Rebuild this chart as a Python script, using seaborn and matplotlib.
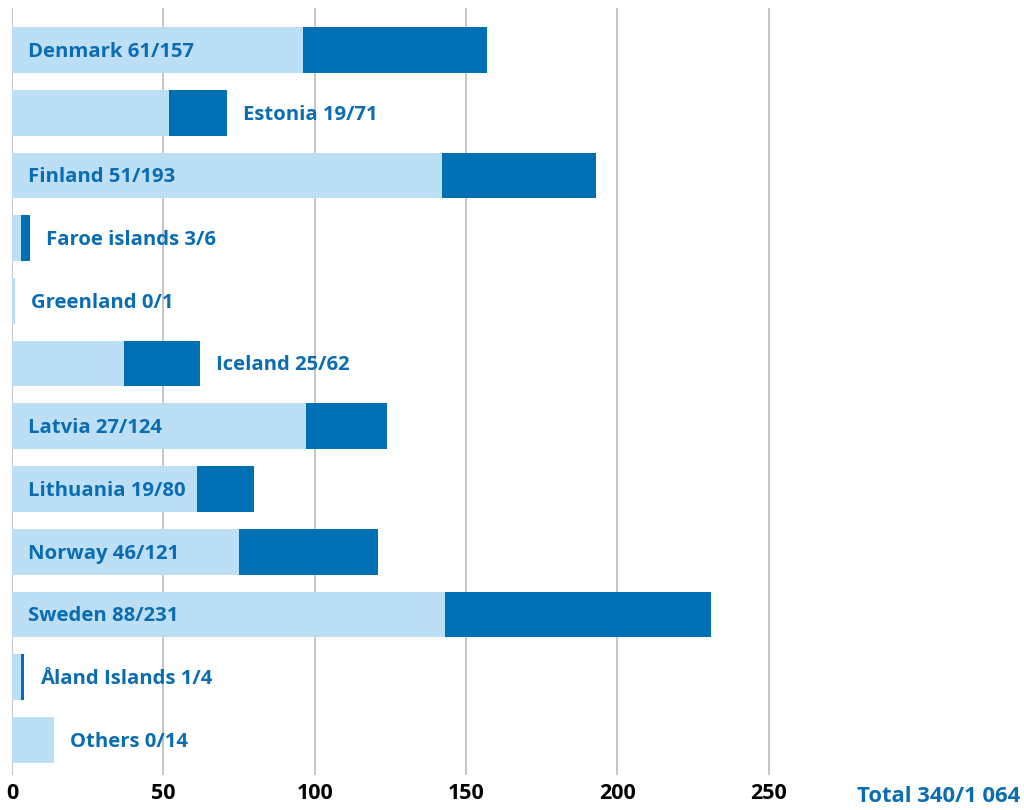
import matplotlib
matplotlib.use("Agg")
import matplotlib.pyplot as plt
import seaborn as sns
import pandas as pd

countries = ['Denmark', 'Estonia', 'Finland', 'Faroe islands', 'Greenland', 'Iceland',
             'Latvia', 'Lithuania', 'Norway', 'Sweden', 'Åland Islands', 'Others']
dark_part = [61, 19, 51, 3, 0, 25, 27, 19, 46, 88, 1, 0]
totals = [157, 71, 193, 6, 1, 62, 124, 80, 121, 231, 4, 14]
total_label = 'Total 340/1 064'

light_col = '#BDDFF5'
dark_col = '#0070B5'
text_col = '#0A6DB3'

df = pd.DataFrame({'country': countries, 'dark': dark_part, 'total': totals})
df['light'] = df['total'] - df['dark']

sns.set_style('white')
plt.rcParams['font.family'] = ['Open Sans', 'DejaVu Sans']

fig = plt.figure(figsize=(10.24, 8.1), dpi=100)
ax = fig.add_axes([12/1024, 35/810, 1008/1024, 767/810])

sns.barplot(data=df, y='country', x='total', color=dark_col, orient='h',
            width=0.73, saturation=1, linewidth=0, ax=ax, zorder=2)
sns.barplot(data=df, y='country', x='light', color=light_col, orient='h',
            width=0.73, saturation=1, linewidth=0, ax=ax, zorder=3)

ax.set_xlim(0, 333)
ax.set_ylim(11.56, -0.67)
ax.set_xticks([0, 50, 100, 150, 200, 250])
ax.grid(axis='x', color='#C4C4C4', linewidth=1.4, zorder=0)
ax.set_axisbelow(True)
for s in ax.spines.values():
    s.set_visible(False)
ax.set_yticks([])
ax.set_xlabel('')
ax.set_ylabel('')
ax.tick_params(axis='x', length=0, pad=6, labelsize=15.5, labelcolor='black')
for lab in ax.get_xticklabels():
    lab.set_fontweight('bold')

# px -> data units (about 3.03 px per unit)
for i, row in df.iterrows():
    label = f"{row['country']} {row['dark']}/{row['total']}"
    if row['light'] >= 60:
        x = 5.3
    else:
        x = row['total'] + 5.3
    ax.text(x, i + 0.03, label, ha='left', va='center', color=text_col,
            fontsize=14.6, fontweight='bold', zorder=5)

fig.text(1020/1024, 14/810, total_label, ha='right', va='center',
         color=text_col, fontsize=15.8, fontweight='bold')

fig.savefig('out.png', dpi=100)
